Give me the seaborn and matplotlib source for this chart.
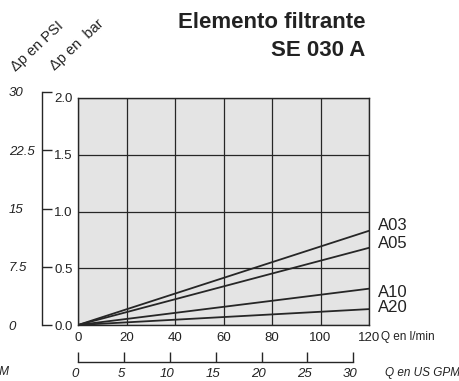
import numpy as np
import pandas as pd
import matplotlib
matplotlib.use("Agg")
import matplotlib.pyplot as plt
import matplotlib.transforms as mtrans
import seaborn as sns

# ---- data ----
flow_lpm = [0, 120]
dp_A03 = [0.0, 0.83]
dp_A05 = [0.0, 0.68]
dp_A10 = [0.0, 0.32]
dp_A20 = [0.0, 0.14]
elements = ["A03", "A05", "A10", "A20"]
label_y = [0.88, 0.72, 0.29, 0.15]
x_ticks = [0, 20, 40, 60, 80, 100, 120]
bar_ticks = [0.0, 0.5, 1.0, 1.5, 2.0]
psi_ticks = [0, 7.5, 15, 22.5, 30]
psi_labels = ["0", "7.5", "15", "22.5", "30"]
gpm_ticks = [0, 5, 10, 15, 20, 25, 30]
LPM_PER_GPM = 3.785

rows = []
for name, vals in zip(elements, [dp_A03, dp_A05, dp_A10, dp_A20]):
    for q, d in zip(flow_lpm, vals):
        rows.append({"flow": q, "dp": d, "element": name})
df = pd.DataFrame(rows)

sns.set_theme(style="white")
plt.rcParams["font.family"] = ["Liberation Sans", "DejaVu Sans"]

W, H = 459, 381
fig = plt.figure(figsize=(W / 100, H / 100), dpi=100)


def rect(l, t, r, b):
    return [l / W, 1 - b / H, (r - l) / W, (b - t) / H]


DARK = "#262626"
TXT = "#222222"
NUM = 9.5

ax = fig.add_axes(rect(78, 98, 369, 325))
ax.set_facecolor("#e4e4e4")
sns.lineplot(data=df, x="flow", y="dp", hue="element",
             palette={e: DARK for e in elements}, legend=False,
             linewidth=1.3, ax=ax)
ax.set_xlim(0, 120)
ax.set_ylim(0, 2)
ax.set_xticks(x_ticks)
ax.set_yticks(bar_ticks)
ax.set_yticklabels([f"{v:.1f}" for v in bar_ticks])
ax.grid(True, color=DARK, linewidth=0.9)
ax.set_axisbelow(True)
ax.tick_params(length=0, labelsize=NUM, labelcolor=TXT)
ax.tick_params(axis="y", pad=4)
ax.tick_params(axis="x", pad=5)
for s in ax.spines.values():
    s.set_color(DARK)
    s.set_linewidth(1.0)
ax.set_xlabel("")
ax.set_ylabel("")

for name, yv in zip(elements, label_y):
    ax.text(123.5, yv, name, fontsize=12, va="center", ha="left",
            color=TXT, clip_on=False)

# PSI axis
ax_p = fig.add_axes(rect(42, 92, 60, 325))
ax_p.patch.set_visible(False)
ax_p.set_ylim(0, 30)
ax_p.set_yticks(psi_ticks)
ax_p.set_yticklabels(psi_labels, fontstyle="italic", ha="left")
ax_p.get_xaxis().set_visible(False)
for k in ["top", "right", "bottom"]:
    ax_p.spines[k].set_visible(False)
ax_p.spines["left"].set_color(DARK)
ax_p.spines["left"].set_linewidth(1.0)
ax_p.tick_params(axis="y", direction="in", length=7, width=1.0, color=DARK,
                 labelsize=NUM, labelcolor=TXT, pad=24, left=True)

# GPM axis
ax_g = fig.add_axes(rect(78, 340, 369, 362))
ax_g.patch.set_visible(False)
ax_g.set_xlim(0, 120 / LPM_PER_GPM)
ax_g.set_xticks(gpm_ticks)
ax_g.set_xticklabels([str(v) for v in gpm_ticks], fontstyle="italic")
ax_g.get_yaxis().set_visible(False)
for k in ["top", "right", "left"]:
    ax_g.spines[k].set_visible(False)
ax_g.spines["bottom"].set_bounds(0, 30)
ax_g.spines["bottom"].set_color(DARK)
ax_g.spines["bottom"].set_linewidth(1.0)
ax_g.tick_params(axis="x", direction="in", length=7, width=1.0, color=DARK,
                 labelsize=NUM, labelcolor=TXT, pad=4, bottom=True)
shift = mtrans.ScaledTranslation(-3 / 100, 0, fig.dpi_scale_trans)
for lab in ax_g.get_xticklabels():
    lab.set_transform(lab.get_transform() + shift)

# texts
fig.text(365 / W, 1 - 22 / H, "Elemento filtrante", ha="right", va="center",
         fontsize=16, fontweight="bold", color=TXT)
fig.text(365 / W, 1 - 51 / H, "SE 030 A", ha="right", va="center",
         fontsize=16, fontweight="bold", color=TXT)
fig.text(37 / W, 1 - 46 / H, "Δp en PSI", rotation=43, ha="center", va="center",
         rotation_mode="anchor", fontsize=10.5, color=TXT)
fig.text(77 / W, 1 - 45 / H, "Δp en  bar", rotation=43, ha="center", va="center",
         rotation_mode="anchor", fontsize=10.5, color=TXT)
fig.text(381 / W, 1 - 337 / H, "Q en l/min", ha="left", va="center",
         fontsize=8.5, color=TXT)
fig.text(385 / W, 1 - 373 / H, "Q en US GPM", ha="left", va="center",
         fontsize=8.5, fontstyle="italic", color=TXT)
fig.text(9.5 / W, 1 - 372 / H, "Q en US GPM", ha="right", va="center",
         fontsize=8.5, fontstyle="italic", color=TXT)

fig.savefig("out.png", dpi=100)
